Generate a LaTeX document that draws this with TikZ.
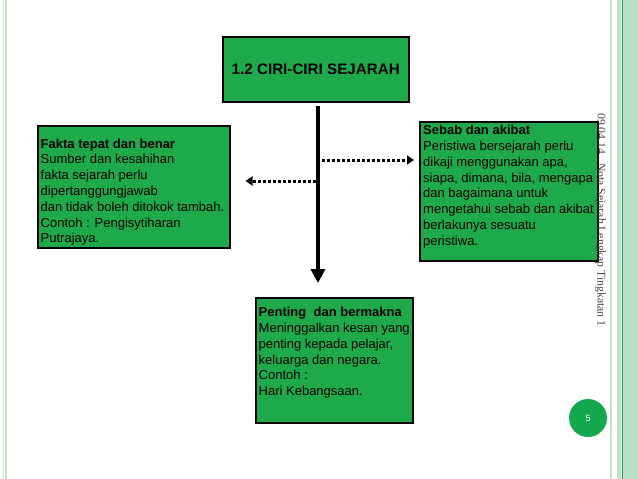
\documentclass[tikz,border=0pt]{standalone}
\usepackage{fontspec}
\setmainfont{Liberation Sans}
\newfontfamily\footserif{Liberation Serif}
\usetikzlibrary{arrows.meta}
\definecolor{boxgreen}{RGB}{30,170,74}
\definecolor{pagegreen}{RGB}{22,168,78}
\definecolor{edgelight}{RGB}{190,226,202}
\definecolor{edgefill}{RGB}{184,224,198}
\definecolor{edgedark}{RGB}{40,160,85}
\definecolor{foottext}{RGB}{70,70,70}
\begin{document}
\begin{tikzpicture}[x=1pt,y=-1pt,
  gbox/.style={draw=black, line width=1.5pt, fill=boxgreen, inner sep=0pt, anchor=north west},
  btext/.style={anchor=north west, align=left, inner sep=0pt, text=black,
    font=\fontsize{13}{15.8}\selectfont},
  mainarrow/.style={line width=4pt, -{Triangle[width=14pt,length=14pt]}},
  dotarrow/.style={line width=3pt, dash pattern=on 3pt off 2pt, -{Triangle[width=9pt,length=7pt]}}
]
\useasboundingbox (0,0) rectangle (638,479);
\fill[white] (0,0) rectangle (638,479);
% page edges
\draw[edgelight, line width=1pt] (3.2,0) -- (3.2,479);
\draw[edgelight, line width=2pt] (6,0) -- (6,479);
\draw[edgelight, line width=1.5pt] (610.8,0) -- (610.8,479);
\fill[edgelight] (617,0) rectangle (621.4,479);
\fill[edgefill] (623,0) rectangle (638,479);
\draw[edgedark, line width=1pt] (622.2,0) -- (622.2,479);
% title
\node[gbox, minimum width=186pt, minimum height=65pt,
      font=\bfseries\fontsize{15.2}{17}\selectfont] (title) at (222,36) {1.2 CIRI-CIRI SEJARAH};
% left box
\node[gbox, minimum width=192pt, minimum height=122pt] (fakta) at (37,125) {};
\node[btext] (faktatext) at (40.5,138.5) {\textbf{Fakta tepat dan benar}\\
Sumber dan kesahihan\\
fakta sejarah perlu\\
dipertanggungjawab\\
dan tidak boleh ditokok tambah.\\
Contoh : Pengisytiharan\\
Putrajaya.};
% right box
\node[gbox, minimum width=178pt, minimum height=139pt] (sebab) at (419,121) {};
\node[btext] (sebabtext) at (423,125) {\textbf{Sebab dan akibat}\\
Peristiwa bersejarah perlu\\
dikaji menggunakan apa,\\
siapa, dimana, bila, mengapa\\
dan bagaimana untuk\\
mengetahui sebab dan akibat\\
berlakunya sesuatu\\
peristiwa.};
% bottom box
\node[gbox, minimum width=157pt, minimum height=125pt] (penting) at (255,297) {};
\node[btext] (pentingtext) at (258.5,307) {\textbf{Penting\hspace{0.28em} dan bermakna}\\
Meninggalkan kesan yang\\
penting kepada pelajar,\\
keluarga dan negara.\\
Contoh :\\
Hari Kebangsaan.};
% connectors
\coordinate (top) at (318,106);
\coordinate (bot) at (318,283);
\coordinate (rstart) at (322,160);
\coordinate (lstart) at (316,181);
\draw[mainarrow] (top) -- (bot);
\draw[dotarrow, shorten >=5pt] (rstart) -- (rstart -| sebab.west);
\draw[dotarrow, shorten >=15pt] (lstart) -- (lstart -| fakta.east);
% footer
\node[rotate=-90, anchor=west, inner sep=0pt, text=foottext,
      font=\footserif\fontsize{11.7}{12}\selectfont] (footer) at (600.5,113)
      {09.04.14\hspace{9pt}Nota Sejarah Lengkap Tingkatan 1};
\node[circle, fill=pagegreen, minimum size=38pt, inner sep=0pt, text=white,
      font=\fontsize{9}{10}\selectfont] (pg) at (588,418) {5};
\end{tikzpicture}
\end{document}
